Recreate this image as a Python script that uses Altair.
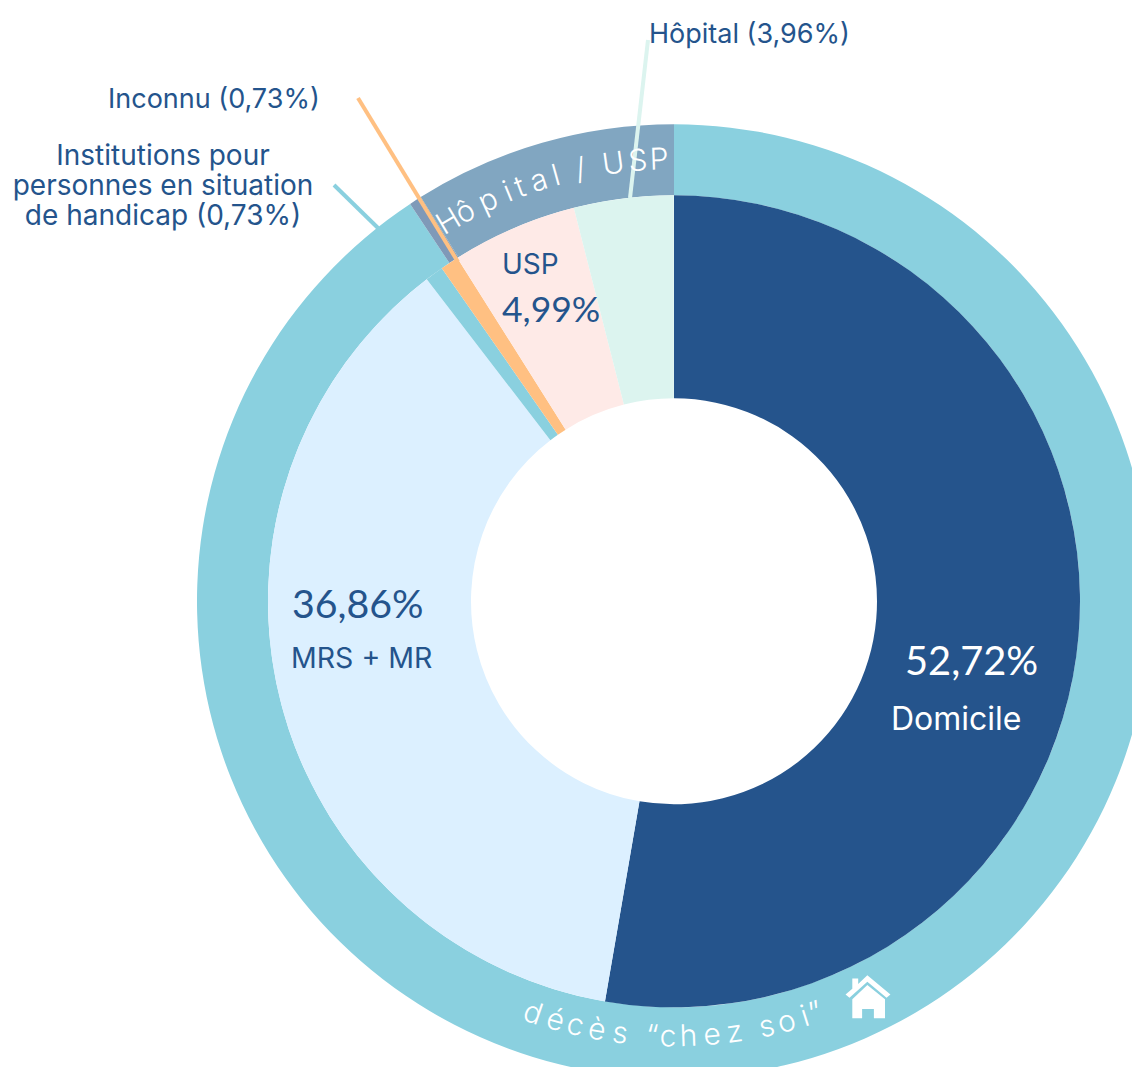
import altair as alt

# Inner ring (percent of deaths by place, clockwise from 12 o'clock)
inner_names = ["Domicile", "MRS + MR", "Institutions", "Inconnu", "USP", "Hôpital"]
inner_values = [52.72, 36.86, 0.73, 0.73, 4.99, 3.96]
inner_colors = ["#25548C", "#DCF0FF", "#8AD0DF", "#FFC082", "#FEEAE7", "#DCF4EF"]

# Outer ring
outer_names = ["chez soi", "sliver", "Hôpital / USP"]
outer_values = [90.67, 0.42, 8.91]
outer_colors = ["#8AD0DF", "#7F99B8", "#81A6C1"]

# Curved ring labels: glyphs and their clock angle in degrees
top_chars = list("Hôpital/USP")
top_deg = [329.3, 331.8, 335.1, 337.9, 339.6, 342.2, 344.5, 347.8, 352.1, 355.3, 358.05]
bottom_chars = list("décès“chez") + list("soi”")
bottom_deg = [198.9, 195.8, 193.1, 190.2, 187.1, 182.9, 180.8, 178.1, 175.0, 172.0, 167.7, 165.0, 162.5, 161.0]

HOUSE = ("M-0.03,-1 L1.03,-0.12 L0.85,0.03 L-0.03,-0.7 L-0.85,0.03 L-1.03,-0.12 L-0.72,-0.38 "
         "L-0.72,-0.85 L-0.45,-0.85 L-0.45,-0.6 Z "
         "M-0.03,-0.55 L0.78,0.1 L0.78,0.97 L0.27,0.97 L0.27,0.55 L-0.27,0.55 L-0.27,0.97 L-0.72,0.97 L-0.72,0.1 Z")

M = 8  # page margin
CX, CY = 674 - M, 601.3 - M
all_names = inner_names + outer_names
all_colors = inner_colors + outer_colors
TXT = "#24548C"
theta_scale = alt.Scale(domain=[0, 100], range=[0, 6.283185307179586])


def ring(names, values, r1, r2):
    rows = [{"name": n, "v": v, "i": i} for i, (n, v) in enumerate(zip(names, values))]
    return alt.Chart(alt.Data(values=rows)).mark_arc(stroke=None).encode(
        x=alt.value(CX), y=alt.value(CY),
        theta=alt.Theta("v:Q", stack=True, scale=theta_scale),
        radius=alt.value(r2), radius2=alt.value(r1),
        color=alt.Color("name:N", scale=alt.Scale(domain=all_names, range=all_colors), legend=None),
        order=alt.Order("i:Q"),
    )


def curved(chars, degs, r, flip, size):
    rows = []
    for c, d in zip(chars, degs):
        a = (d + 180) % 360 if flip else d
        rows.append({"c": c, "t": d / 3.6, "a": a})
    return alt.Chart(alt.Data(values=rows)).mark_text(
        font="Inter", fontSize=size, fontWeight=300, color="white", align="center", baseline="middle"
    ).encode(
        x=alt.value(CX), y=alt.value(CY),
        theta=alt.Theta("t:Q", scale=theta_scale, stack=False),
        radius=alt.value(r),
        text="c:N",
        angle=alt.Angle("a:Q", scale=None),
    )


def label(s, x, y, size=27, color=TXT, align="left", font="Inter", weight=400):
    return alt.Chart(alt.Data(values=[{"t": s}])).mark_text(
        font=font, fontSize=size, fontWeight=weight, color=color, align=align, baseline="middle"
    ).encode(x=alt.value(x - M), y=alt.value(y + 2 - M), text="t:N")


def leader(x1, y1, x2, y2, color, w):
    return alt.Chart(alt.Data(values=[{"a": 1}])).mark_rule(color=color, strokeWidth=w).encode(
        x=alt.value(x1 - M), y=alt.value(y1 - M), x2=alt.value(x2 - M), y2=alt.value(y2 - M)
    )


house = alt.Chart(alt.Data(values=[{"a": 1}])).mark_point(
    shape=HOUSE, filled=True, color="white", opacity=1, size=1900
).encode(x=alt.value(868 - M), y=alt.value(997 - M))

chart = alt.layer(
    ring(outer_names, outer_values, 406, 477),
    ring(inner_names, inner_values, 203, 406),
    leader(334, 185, 378, 228, "#8AD0DF", 4),
    leader(358, 98, 458, 262, "#FFC082", 4),
    leader(648, 40, 630, 198, "#DCF4EF", 4),
    curved(top_chars, top_deg, 441, False, 30),
    curved(bottom_chars, bottom_deg, 436, True, 30),
    house,
    label("Hôpital (3,96%)", 649, 33),
    label("Inconnu (0,73%)", 108, 98),
    label("Institutions pour", 163, 155, size=28, align="center"),
    label("personnes en situation", 163, 185, size=28, align="center"),
    label("de handicap (0,73%)", 163, 215, size=28, align="center"),
    label("USP", 502, 264, size=28),
    label("4,99%", 502, 309, size=35.5, font="Lato", weight=400),
    label("36,86%", 292, 604, size=39.3, font="Lato", weight=400),
    label("MRS + MR", 291, 657, size=28.5),
    label("52,72%", 905, 661, size=39.8, color="white", font="Lato", weight=400),
    label("Domicile", 891, 718, size=32, color="white"),
).properties(
    width=1124, height=1059, padding=0,
    autosize=alt.AutoSizeParams(type="none"),
).configure_view(stroke=None)

chart.save("out.html", embed_options={"renderer": "svg", "actions": False})
